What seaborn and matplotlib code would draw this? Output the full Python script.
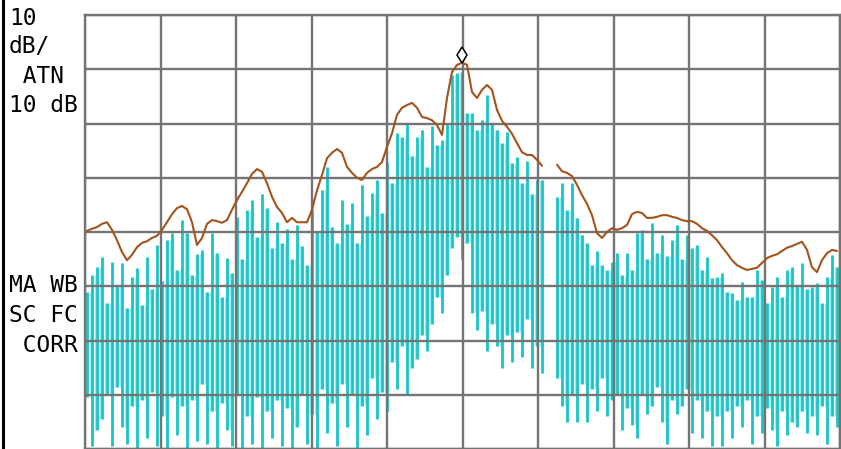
import numpy as np
import pandas as pd
import matplotlib
matplotlib.use("Agg")
import matplotlib.pyplot as plt
import matplotlib.transforms as mtransforms
from matplotlib.lines import Line2D
import seaborn as sns

# ---------------- data (levels in dB, 10 dB/div, reference at top = 0 dB) ----------------
nan = np.nan
n_bins = 151

# max-hold trace (brown), one value per display bin; gap at bins 92-93
maxhold_db = [
    -39.8, -39.4, -39.1, -38.5, -38.2, -39.6, -41.5, -43.7, -45.2, -44.2,
    -42.8, -42.0, -41.7, -41.1, -40.7, -39.6, -38.2, -36.7, -35.6, -35.2,
    -35.8, -38.2, -42.4, -41.1, -38.5, -37.8, -38.0, -38.3, -37.8, -35.9,
    -34.1, -32.6, -31.0, -29.3, -28.4, -28.9, -31.0, -33.5, -35.4, -36.5,
    -38.2, -37.4, -38.2, -38.2, -38.2, -35.9, -32.3, -29.5, -26.4, -25.4,
    -24.7, -25.4, -28.0, -29.1, -30.0, -30.4, -29.1, -28.4, -28.0, -27.1,
    -24.3, -21.8, -18.4, -17.1, -16.6, -16.2, -17.1, -18.8, -19.0, -19.4,
    -20.3, -22.1, -15.3, -10.5, -9.2, -8.8, -9.2, -14.2, -15.3, -13.8,
    -12.9, -13.8, -17.5, -19.5, -20.6, -21.9, -23.6, -25.3, -25.8, -25.8,
    -26.7, -27.8, nan, nan, -27.6, -28.8, -29.1, -29.7, -31.3, -33.2,
    -34.8, -36.9, -40.2, -41.1, -40.0, -39.3, -39.6, -39.3, -38.7, -36.7,
    -36.3, -36.5, -37.4, -37.4, -37.2, -36.9, -36.9, -37.2, -37.4, -37.8,
    -38.0, -38.0, -38.5, -39.3, -39.8, -40.6, -41.5, -42.8, -43.9, -45.2,
    -46.1, -46.6, -47.0, -46.8, -46.6, -45.7, -44.8, -44.4, -44.1, -43.5,
    -42.9, -42.6, -42.2, -41.8, -43.3, -46.5, -47.4, -45.2, -43.9, -43.3,
    -43.5,
]

# live trace (cyan): top / bottom of each vertical sweep segment, left part (bins 0-91)
left_top_db = [
    -51.0, -48.0, -46.5, -44.6, -53.0, -45.5, -50.0, -45.7, -54.0, -48.3,
    -46.6, -53.5, -44.6, -50.5, -42.4, -49.0, -41.5, -40.2, -47.0, -37.8,
    -40.2, -48.0, -44.0, -43.3, -51.0, -40.2, -43.9, -52.0, -44.8, -47.6,
    -37.2, -45.0, -36.0, -34.1, -41.0, -33.0, -35.5, -43.0, -38.2, -42.0,
    -39.5, -45.0, -38.7, -42.5, -46.0, -35.9, -40.0, -32.3, -28.0, -39.0,
    -42.0, -34.1, -38.5, -34.6, -42.0, -31.3, -37.0, -32.8, -30.4, -36.5,
    -27.1, -31.0, -21.8, -22.5, -19.9, -26.0, -22.5, -21.2, -28.0, -20.5,
    -24.0, -23.0, -19.9, -11.0, -10.7, -10.5, -18.0, -18.0, -21.2, -19.4,
    -14.8, -20.0, -21.2, -23.6, -21.5, -27.3, -26.2, -31.0, -27.0, -33.0,
    -30.4, -30.4,
]
left_bottom_db = [
    -70.5, -79.5, -76.5, -74.5, -70.0, -79.5, -68.5, -76.0, -79.0, -72.0,
    -80.0, -71.0, -78.0, -69.5, -79.5, -74.0, -80.0, -70.5, -77.5, -72.0,
    -80.0, -71.0, -78.5, -68.0, -79.0, -73.0, -80.0, -71.5, -76.5, -79.5,
    -70.0, -80.0, -74.0, -79.0, -70.5, -80.0, -73.0, -78.0, -71.0, -79.5,
    -72.5, -80.0, -76.0, -70.0, -79.0, -73.5, -80.0, -69.0, -77.0, -71.5,
    -79.5, -68.0, -76.0, -70.0, -80.0, -72.0, -77.5, -67.0, -74.5, -69.5,
    -73.0, -64.0, -69.0, -61.0, -70.0, -65.0, -63.5, -59.0, -62.0, -57.0,
    -52.0, -55.0, -48.0, -43.0, -41.0, -45.0, -42.0, -55.0, -58.0, -54.5,
    -62.0, -57.0, -61.0, -65.0, -59.0, -64.0, -58.5, -63.0, -56.0, -65.0,
    -61.0, -66.0,
]
# right part (bins 94-150)
right_top_db = [
    -33.5, -31.0, -36.0, -31.0, -37.5, -40.5, -42.0, -46.0, -43.5, -46.1,
    -47.0, -45.5, -43.9, -48.0, -43.9, -47.0, -40.2, -39.6, -45.0, -38.3,
    -43.9, -40.5, -44.5, -41.5, -38.7, -45.0, -40.5, -43.0, -42.4, -47.0,
    -44.6, -48.5, -48.3, -47.6, -51.0, -51.3, -52.5, -49.3, -52.0, -51.9,
    -47.0, -48.9, -53.0, -50.1, -48.3, -52.0, -47.0, -46.5, -50.0, -45.7,
    -50.5, -50.1, -49.4, -53.0, -48.3, -44.2, -46.5,
]
right_bottom_db = [
    -67.0, -72.0, -75.0, -70.0, -75.0, -68.0, -75.0, -69.0, -73.0, -67.0,
    -74.0, -71.0, -70.0, -76.5, -72.5, -75.5, -78.0, -70.0, -73.5, -72.0,
    -68.5, -75.0, -79.0, -71.0, -73.5, -72.0, -69.0, -77.0, -71.0, -78.0,
    -73.0, -79.5, -74.0, -79.5, -73.0, -78.0, -72.0, -76.0, -71.0, -79.0,
    -74.0, -77.0, -72.5, -76.5, -79.5, -73.0, -77.5, -75.0, -76.0, -73.0,
    -77.0, -74.0, -77.5, -72.0, -79.0, -74.0, -76.0,
]
gap = [nan, nan]

left_labels = ["10", "dB/", " ATN", "10 dB"]
status_labels = ["MA WB", "SC FC", " CORR"]

# ---------------- build ----------------
bins = np.arange(n_bins)
live_top = np.array(left_top_db + gap + right_top_db)
live_bot = np.array(left_bottom_db + gap + right_bottom_db)
maxhold = np.array(maxhold_db)

seg = np.where(bins < 92, 0, 1)
df = pd.DataFrame({"bin": bins, "level": maxhold, "seg": seg}).dropna()

sns.set_style("white")
plt.rcParams["font.family"] = ["DejaVu Sans Mono", "DejaVu Sans"]

W, H = 841, 449
fig = plt.figure(figsize=(W / 100, H / 100), dpi=100)
fig.patch.set_facecolor("white")
ax = fig.add_axes([85 / W, 0.0, 755 / W, 434 / H])

CYAN = "#17c4c6"
CYAN_LIGHT = "#a6e8e8"
BROWN = "#a3531c"
GRID = "#747474"

ok = ~np.isnan(live_top)
# overlap between neighbouring sweep segments (lighter trace fill)
pair_ok = ok[:-1] & ok[1:]
ov_top = np.minimum(live_top[:-1], live_top[1:])
ov_bot = np.maximum(live_bot[:-1], live_bot[1:])
mid = bins[:-1] + 0.5
ax.vlines(mid[pair_ok], ov_bot[pair_ok], ov_top[pair_ok], colors=CYAN_LIGHT, lw=0.9, zorder=0.9)
ax.vlines(bins[ok], live_bot[ok], live_top[ok], colors=CYAN, lw=2.0, zorder=1)

sns.lineplot(data=df, x="bin", y="level", units="seg", estimator=None,
             color=BROWN, lw=1.5, ax=ax, legend=False, zorder=4)

# peak marker
ipk = int(np.nanargmax(maxhold))
mk_tr = mtransforms.offset_copy(ax.transData, fig=fig, x=0, y=8, units="dots")
ax.plot([bins[ipk]], [maxhold[ipk]], marker="d", ms=8, mfc="white", mec="black",
        mew=1.1, ls="none", transform=mk_tr, zorder=5, clip_on=False)

x0, x1 = -0.4, 150.6
ax.set_xlim(x0, x1)
ax.set_ylim(-80, 0)
ax.set_xticks(np.linspace(x0, x1, 11))
ax.set_yticks(np.arange(-80, 1, 10))
ax.set_axisbelow(False)
ax.grid(True, color=GRID, lw=1.7)
ax.tick_params(length=0, labelbottom=False, labelleft=False)
ax.set_xlabel("")
ax.set_ylabel("")
for s in ax.spines.values():
    s.set_color(GRID)
    s.set_linewidth(1.7)
ax.set_facecolor("white")

# left annotation column
for txt, yb in zip(left_labels, [25, 53, 83, 112]):
    fig.text(9 / W, 1 - yb / H, txt, fontsize=16.5, va="baseline", ha="left", color="black")
for txt, yb in zip(status_labels, [292, 322, 352]):
    fig.text(9 / W, 1 - yb / H, txt, fontsize=16.5, va="baseline", ha="left", color="black")

fig.add_artist(Line2D([2.5 / W, 2.5 / W], [0, 1], transform=fig.transFigure,
                      color="black", lw=2.2))

fig.savefig("out.png", dpi=100, facecolor="white")
